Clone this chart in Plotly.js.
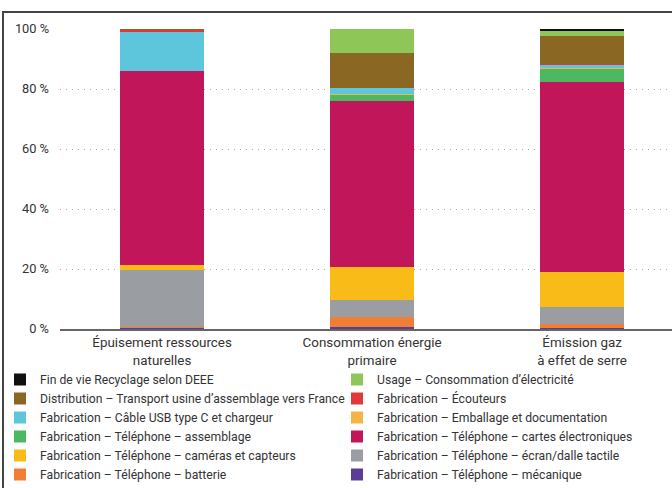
<!DOCTYPE html>
<html>
<head>
<meta charset="utf-8">
<script src="https://cdn.plot.ly/plotly-3.0.1.min.js"></script>
<style>
html,body{margin:0;padding:0;background:#fff;}
#wrap{position:relative;width:672px;height:488px;}
#chart{width:672px;height:488px;}
#frame{position:absolute;z-index:50;left:2px;top:11px;width:670px;height:477px;border-left:2px solid #444;border-top:2px solid #444;pointer-events:none;box-sizing:border-box;}
</style>
</head>
<body>
<div id="wrap">
<div id="chart"></div>
<div id="frame"></div>
</div>
<script>
// Categories (x axis)
const categories = ["Épuisement ressources<br>naturelles", "Consommation énergie<br>primaire", "Émission gaz<br>à effet de serre"];

// Series names, bottom of the stack first
const seriesNames = [
  "Fabrication – Téléphone – mécanique",
  "Fabrication – Téléphone – batterie",
  "Fabrication – Téléphone – écran/dalle tactile",
  "Fabrication – Téléphone – caméras et capteurs",
  "Fabrication – Téléphone – cartes électroniques",
  "Fabrication – Téléphone – assemblage",
  "Fabrication – Emballage et documentation",
  "Fabrication – Câble USB type C et chargeur",
  "Fabrication – Écouteurs",
  "Distribution – Transport usine d’assemblage vers France",
  "Usage – Consommation d’électricité",
  "Fin de vie Recyclage selon DEEE"
];

// Values (%) per series, for [Épuisement, Consommation, Émission]
const mecanique     = [0.2, 0.8, 0.5];
const batterie      = [0.6, 3.3, 1.3];
const ecran         = [19.0, 5.7, 5.7];
const cameras       = [1.4, 10.9, 11.4];
const cartes        = [64.7, 55.2, 63.4];
const assemblage    = [0.0, 2.2, 4.5];
const emballage     = [0.1, 0.3, 0.2];
const cable         = [13.1, 1.9, 1.1];
const ecouteurs     = [0.5, 0.0, 0.1];
const distribution  = [0.4, 11.7, 9.5];
const usage         = [0.0, 8.0, 1.5];
const finDeVie      = [0.0, 0.0, 0.8];

const seriesValues = [mecanique, batterie, ecran, cameras, cartes, assemblage,
                      emballage, cable, ecouteurs, distribution, usage, finDeVie];

const seriesColors = ["#5b3d96", "#ee7f35", "#9a9ea3", "#f8bb18", "#c1175a", "#4db862",
                      "#f4b446", "#5dc6dc", "#e2383a", "#8a6823", "#8fc658", "#111111"];

// Y tick labels
const yTickVals = [0, 20, 40, 60, 80, 100];
const yTickText = ["0 %", "20 %", "40 %", "60 %", "80 %", "100 %"];

const traces = seriesNames.map((name, i) => ({
  type: "bar",
  name: name,
  x: categories,
  y: seriesValues[i],
  marker: {color: seriesColors[i], line: {width: 0}},
  width: 0.4,
  hoverinfo: "name+y"
}));

const W = 672, H = 488, L = 60, R = 0, T = 29, B = 159;
const pw = W - L - R, ph = H - T - B;
const px = v => (v - L) / pw;
const py = v => (H - B - v) / ph;

const layout = {
  width: W, height: H,
  margin: {l: L, r: R, t: T, b: B, pad: 0, autoexpand: false},
  paper_bgcolor: "#fff",
  plot_bgcolor: "#fff",
  barmode: "stack",
  font: {family: "Roboto, 'Noto Sans', sans-serif", color: "#333", size: 12},
  showlegend: true,
  xaxis: {
    type: "category",
    range: [-0.486, 2.428],
    showline: true, linecolor: "#666", linewidth: 2,
    showgrid: false, zeroline: false, ticks: "",
    tickfont: {size: 13.4, color: "#333"},
    fixedrange: true
  },
  yaxis: {
    range: [0, 100],
    tickvals: yTickVals, ticktext: yTickText,
    showgrid: true, gridcolor: "#a8a8a8", gridwidth: 1, griddash: "1px,5px",
    zeroline: false, showline: false, ticks: "",
    ticklabelstandoff: 10,
    tickfont: {size: 12.8, color: "#333"},
    fixedrange: true
  },
  legend: {
    orientation: "h",
    traceorder: "reversed",
    xref: "paper", yref: "paper",
    x: px(0), y: py(365),
    xanchor: "left", yanchor: "top",
    entrywidth: 292, entrywidthmode: "pixels",
    font: {size: 12.2, color: "#333"},
    itemclick: false, itemdoubleclick: false,
    bgcolor: "rgba(0,0,0,0)"
  },
  shapes: [
    {type: "line", xref: "paper", yref: "paper", x0: px(3), x1: px(3), y0: py(12), y1: py(H),
     line: {color: "#444", width: 2}, layer: "above"},
    {type: "line", xref: "paper", yref: "paper", x0: px(3), x1: px(W), y0: py(12), y1: py(12),
     line: {color: "#444", width: 2}, layer: "above"}
  ]
};

Plotly.newPlot("chart", traces, layout, {displayModeBar: false, staticPlot: true});
</script>
</body>
</html>
